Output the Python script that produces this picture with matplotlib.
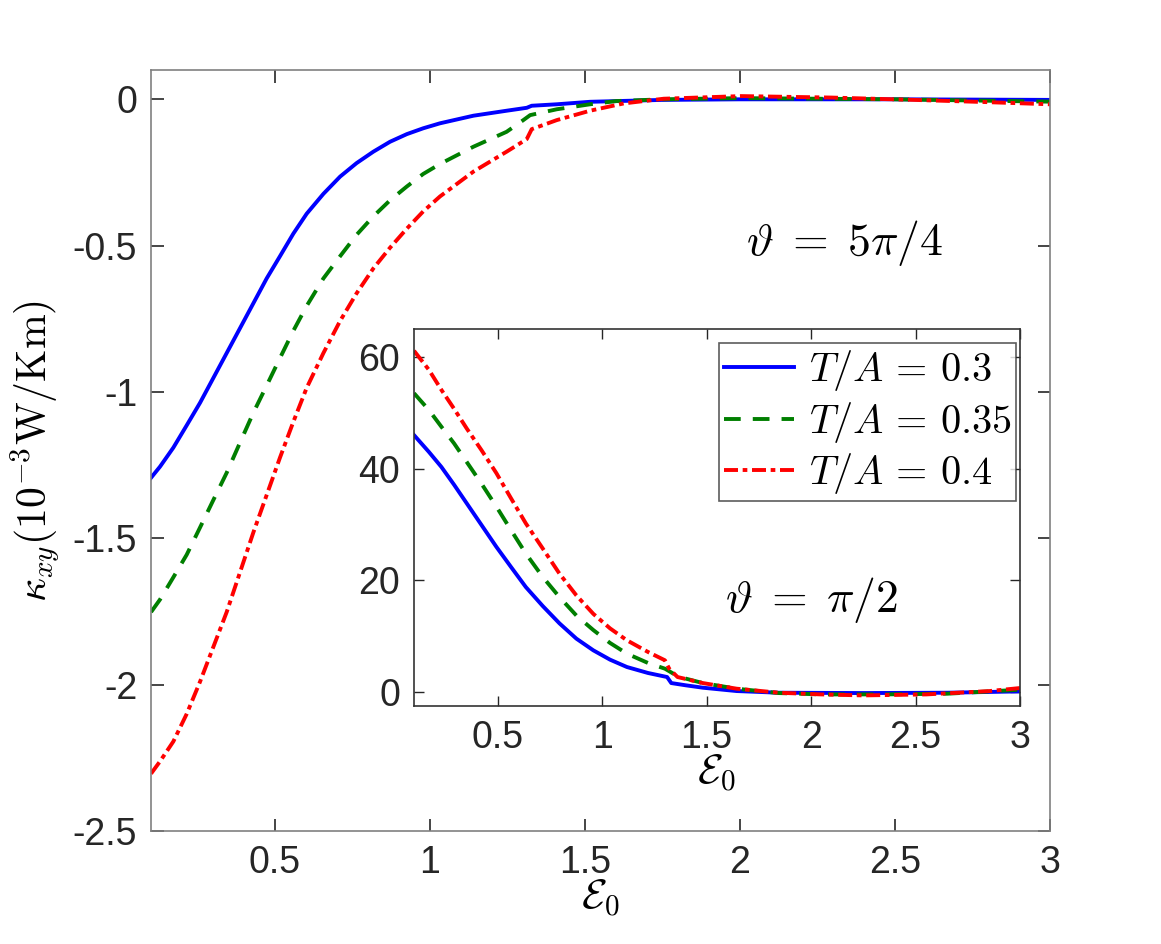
import matplotlib
matplotlib.use("Agg")
import matplotlib.pyplot as plt
from matplotlib.ticker import FormatStrFormatter

plt.rcParams['font.family'] = ['Liberation Sans', 'DejaVu Sans']
plt.rcParams['mathtext.fontset'] = 'cm'
plt.rcParams['axes.unicode_minus'] = False

# ---- main panel data (theta = 5pi/4) ----
main_x_blue = [0.1, 0.129, 0.172, 0.215, 0.258, 0.301, 0.344, 0.387, 0.430, 0.473, 0.516, 0.559,
               0.602, 0.656, 0.710, 0.763, 0.817, 0.871, 0.925, 0.978, 1.032, 1.140, 1.247,
               1.312, 1.328, 1.409, 1.516, 1.75, 2.0, 2.5, 3.0]
main_y_blue = [-1.293, -1.255, -1.190, -1.114, -1.037, -0.952, -0.867, -0.782, -0.697, -0.612, -0.536, -0.459,
               -0.391, -0.323, -0.264, -0.218, -0.179, -0.145, -0.119, -0.099, -0.082, -0.056, -0.039,
               -0.029, -0.022, -0.017, -0.0085, -0.002, 0.0, 0.0, -0.002]

main_x_green = [0.1, 0.129, 0.172, 0.215, 0.258, 0.301, 0.344, 0.387, 0.430, 0.473, 0.516, 0.559,
                0.602, 0.656, 0.710, 0.763, 0.817, 0.871, 0.925, 0.978, 1.032, 1.140, 1.247,
                1.301, 1.323, 1.409, 1.516, 1.60, 1.75, 2.0, 2.5, 3.0]
main_y_green = [-1.752, -1.709, -1.633, -1.556, -1.463, -1.369, -1.276, -1.173, -1.071, -0.978, -0.884, -0.791,
                -0.706, -0.612, -0.536, -0.463, -0.400, -0.345, -0.298, -0.255, -0.221, -0.162, -0.111,
                -0.071, -0.054, -0.034, -0.017, -0.006, 0.0, 0.004, 0.0, -0.008]

main_x_red = [0.1, 0.129, 0.172, 0.215, 0.258, 0.301, 0.344, 0.387, 0.430, 0.473, 0.516, 0.559,
              0.602, 0.656, 0.710, 0.763, 0.817, 0.871, 0.925, 0.978, 1.032, 1.140, 1.247,
              1.312, 1.328, 1.409, 1.516, 1.625, 1.754, 2.003, 2.294, 2.562, 2.78, 3.0]
main_y_red = [-2.304, -2.262, -2.194, -2.100, -1.990, -1.871, -1.752, -1.616, -1.480, -1.352, -1.224, -1.102,
              -0.986, -0.867, -0.757, -0.663, -0.578, -0.507, -0.442, -0.383, -0.332, -0.247, -0.179,
              -0.136, -0.102, -0.071, -0.039, -0.014, 0.002, 0.011, 0.006, -0.002, -0.009, -0.017]

# ---- inset data (theta = pi/2) ----
ins_x_blue = [0.1, 0.171, 0.231, 0.292, 0.352, 0.423, 0.494, 0.564, 0.635, 0.716, 0.796, 0.877,
              0.958, 1.038, 1.119, 1.220, 1.311, 1.331, 1.402, 1.482, 1.644, 1.846, 2.249, 2.653, 3.0]
ins_y_blue = [46.0, 43.0, 40.3, 37.1, 33.8, 29.9, 26.0, 22.4, 18.8, 15.4, 12.3, 9.56,
              7.47, 5.80, 4.48, 3.41, 2.69, 1.61, 1.20, 0.78, 0.18, -0.12, -0.18, -0.12, 0.12]

ins_x_green = [0.1, 0.171, 0.231, 0.292, 0.352, 0.423, 0.494, 0.564, 0.635, 0.716, 0.796, 0.877,
               0.958, 1.038, 1.119, 1.220, 1.301, 1.341, 1.402, 1.482, 1.644, 1.846, 2.047, 2.35, 2.65, 3.0]
ins_y_green = [53.5, 50.5, 47.5, 44.5, 41.2, 37.3, 33.2, 29.0, 24.8, 20.6, 17.0, 13.7,
               11.1, 8.79, 6.87, 5.20, 4.18, 3.29, 2.39, 1.61, 0.60, -0.18, -0.42, -0.42, -0.30, 0.42]

ins_x_red = [0.1, 0.171, 0.231, 0.292, 0.352, 0.423, 0.494, 0.564, 0.635, 0.716, 0.796, 0.877,
             0.958, 1.038, 1.119, 1.220, 1.301, 1.321, 1.361, 1.482, 1.644, 1.846, 2.047, 2.249,
             2.552, 2.855, 3.0]
ins_y_red = [61.1, 57.7, 54.1, 50.7, 47.2, 43.3, 39.2, 34.7, 30.2, 25.7, 21.2, 17.3,
             14.0, 11.4, 9.26, 7.17, 5.68, 4.18, 2.69, 1.61, 0.60, -0.12, -0.42, -0.60,
             -0.42, 0.18, 0.72]

labels = [r'$T/A\,=\,0.3$', r'$T/A\,=\,0.35$', r'$T/A\,=\,0.4$']
main_xticks = [0.5, 1, 1.5, 2, 2.5, 3]
main_yticks = [0, -0.5, -1, -1.5, -2, -2.5]
ins_yticks = [0, 20, 40, 60]

colors = ['#0000ff', '#007f00', '#ff0000']
styles = [dict(linestyle='-'),
          dict(linestyle=(0, (4.3, 3.1))),
          dict(linestyle=(0, (3.6, 1.2, 1.2, 1.2)))]
lw = 2.8
tick_color = '#262626'

fig = plt.figure(figsize=(11.61, 9.44), dpi=100)
ax = fig.add_axes([0.1301, 0.1197, 0.7743, 0.8061])
for xs, ys, c, st in zip([main_x_blue, main_x_green, main_x_red],
                         [main_y_blue, main_y_green, main_y_red], colors, styles):
    ax.plot(xs, ys, color=c, lw=lw, solid_joinstyle='round', **st)
ax.set_xlim(0.1, 3)
ax.set_ylim(-2.5, 0.1)
ax.set_xticks(main_xticks)
ax.set_yticks(main_yticks)
ax.xaxis.set_major_formatter(FormatStrFormatter('%g'))
ax.yaxis.set_major_formatter(FormatStrFormatter('%g'))
ax.tick_params(direction='in', length=9, width=1.2, top=True, right=True,
               labelsize=27, colors=tick_color, pad=10)
for s in ax.spines.values():
    s.set_color('#808080')
    s.set_linewidth(1.2)
ax.set_xlabel(r'$\mathcal{E}_0$', fontsize=30, labelpad=-2)
ax.set_ylabel(r'$\kappa_{xy}(10^{-3}\mathrm{W/Km})$', fontsize=30, labelpad=8)
ax.text(2.02, -0.49, r'$\vartheta\;=\;5\pi/4$', fontsize=33, va='center', ha='left')

axi = fig.add_axes([0.3566, 0.2521, 0.522, 0.3994])
handles = []
for xs, ys, c, st, lab in zip([ins_x_blue, ins_x_green, ins_x_red],
                              [ins_y_blue, ins_y_green, ins_y_red], colors, styles, labels):
    h, = axi.plot(xs, ys, color=c, lw=lw, label=lab, solid_joinstyle='round', **st)
    handles.append(h)
axi.set_xlim(0.1, 3)
axi.set_ylim(-2.5, 65)
axi.set_xticks(main_xticks)
axi.set_yticks(ins_yticks)
axi.xaxis.set_major_formatter(FormatStrFormatter('%g'))
axi.tick_params(direction='in', length=7, width=1.0, top=True, right=True,
                labelsize=27, colors=tick_color, pad=10)
for s in axi.spines.values():
    s.set_color('#333333')
    s.set_linewidth(1.2)
axi.set_xlabel(r'$\mathcal{E}_0$', fontsize=30, labelpad=-2)
axi.text(1.59, 16.4, r'$\vartheta\;=\;\pi/2$', fontsize=33, va='center', ha='left')
leg = axi.legend(handles=handles, loc='upper right', bbox_to_anchor=(0.9934, 0.963),
                 fontsize=29, frameon=True, fancybox=False, handlelength=1.75,
                 handletextpad=0.35, borderpad=0.12, labelspacing=0.17, borderaxespad=0)
leg.get_frame().set_edgecolor('#333333')
leg.get_frame().set_linewidth(1.2)

fig.savefig('out.png', dpi=100)
